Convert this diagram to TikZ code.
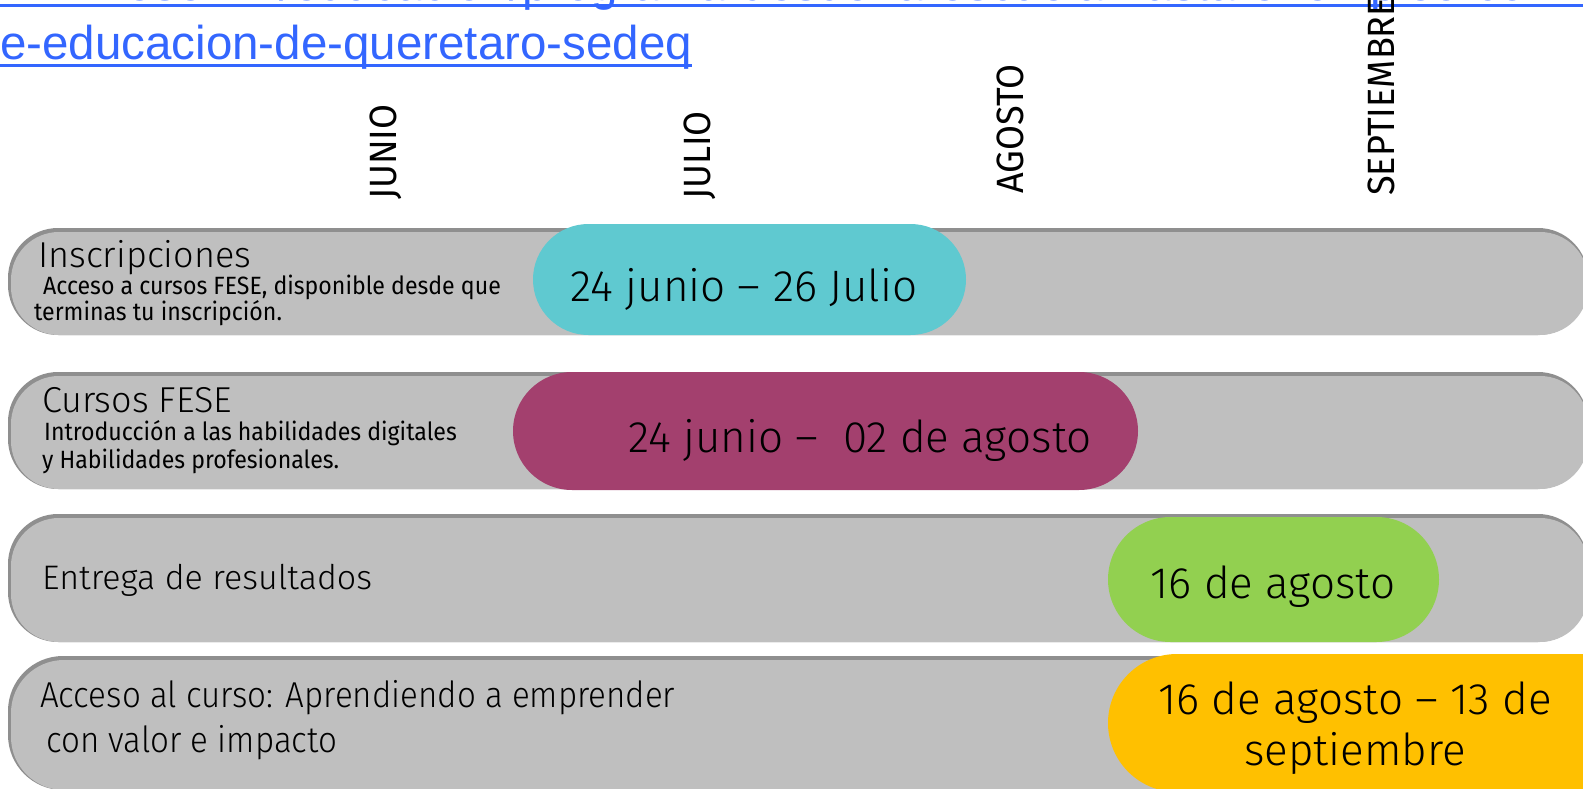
\documentclass[tikz,border=0pt]{standalone}
\usepackage{fontspec}
\setmainfont{Fira Sans Light}
\newfontfamily\titlefont{Fira Sans Light}
\newfontfamily\narrowtitle{Fira Sans Light}[FakeStretch=0.92]
\newfontfamily\subfont{Fira Sans}[FakeStretch=0.925]
\newfontfamily\monthfont{Fira Sans}[FakeStretch=0.95]
\newfontfamily\linkfont{Liberation Sans}
\usetikzlibrary{shapes.misc}
\definecolor{barfill}{HTML}{BFBFBF}
\definecolor{barshade}{HTML}{8F8F8F}
\definecolor{pcyan}{HTML}{5FC9D0}
\definecolor{pmag}{HTML}{A3406E}
\definecolor{pgreen}{HTML}{92D050}
\definecolor{pyellow}{HTML}{FFC000}
\definecolor{linkblue}{HTML}{3366FF}
\begin{document}
\begin{tikzpicture}[x=1pt,y=-1pt,
  shadebox/.style={rectangle, rounded corners=50pt, fill=barshade, inner sep=0pt, draw=none},
  barbox/.style={rectangle, rounded corners=48pt, fill=barfill, inner sep=0pt, draw=none},
  pill/.style={rounded rectangle, inner sep=0pt, draw=none},
  title/.style={anchor=base west, inner sep=0pt, font=\titlefont\fontsize{36}{36}\selectfont},
  sub/.style={anchor=base west, inner sep=0pt, font=\subfont\fontsize{25}{25}\selectfont},
  datetxt/.style={anchor=base, inner sep=0pt, font=\fontsize{44}{44}\selectfont},
  month/.style={rotate=90, anchor=base west, inner sep=0pt, font=\monthfont\fontsize{38}{38}\selectfont},
  link/.style={anchor=base west, inner sep=0pt, text=linkblue, font=\linkfont\fontsize{47.5}{47.5}\selectfont},
]
\useasboundingbox (0,0) rectangle (1583,789);
\clip (0,0) rectangle (1583,789);

% link
\node[link] (l1) at (0,1) {www.fese.mx/educacion/programa-desde-la-escuela-hasta-el-empleo-con-la-secretaria-d};
\fill[linkblue] (0,4.5) rectangle (1583,7.5);
\node[link] (l2) at (0,60) {e-educacion-de-queretaro-sedeq};
\fill[linkblue] ([yshift=-4.5pt]l2.base west) rectangle ([yshift=-7.5pt]l2.base east);

% months
\node[month] (m1) at (396,200) {JUNIO};
\node[month] (m2) at (710,200) {JULIO};
\node[month] (m3) at (1023,194) {AGOSTO};
\node[month] (m4) at (1394,196) {SEPTIEMBRE};

% bars
\node[shadebox, minimum width=1580, minimum height=107] (b1s) at (798,281.5) {};
\node[barbox, minimum width=1577, minimum height=103] (b1) at (799.5,283.5) {};
\node[shadebox, minimum width=1580, minimum height=117] (b2s) at (798,430.5) {};
\node[barbox, minimum width=1577, minimum height=113] (b2) at (799.5,432.5) {};
\node[shadebox, minimum width=1580, minimum height=128] (b3s) at (798,578) {};
\node[barbox, minimum width=1577, minimum height=124] (b3) at (799.5,580) {};
\node[shadebox, minimum width=1580, minimum height=134, rounded corners=55pt] (b4s) at (798,723) {};
\node[barbox, minimum width=1577, minimum height=130, rounded corners=53pt] (b4) at (799.5,725) {};

% pills
\node[pill, fill=pcyan, minimum width=433, minimum height=111] (p1) at (749.5,279.5) {};
\node[pill, fill=pmag, minimum width=625, minimum height=118] (p2) at (825.5,431) {};
\node[pill, fill=pgreen, minimum width=331, minimum height=125] (p3) at (1273.5,579.5) {};
\node[pill, fill=pyellow, minimum width=552, minimum height=138] (p4) at (1384,723) {};

% dates
\node[datetxt] (d1) at (744,301) {24 junio – 26 Julio};
\node[datetxt] (d2) at (860,452) {24 junio –\ \ 02 de agosto};
\node[datetxt] (d3) at (1273,598) {16 de agosto};
\node[datetxt] (d4a) at (1355,714) {16 de agosto – 13 de};
\node[datetxt] (d4b) at (1355,765) {septiembre};

% left texts
\node[title] (t1) at (38,267) {Inscripciones};
\node[sub] (t1a) at (43,294) {Acceso a cursos FESE, disponible desde que};
\node[sub] (t1b) at (34,320) {terminas tu inscripción.};
\node[title] (t2) at (42,412) {Cursos FESE};
\node[sub] (t2a) at (44,440) {Introducción a las habilidades digitales};
\node[sub] (t2b) at (42,468) {y Habilidades profesionales.};
\node[title, font=\titlefont\fontsize{34}{34}\selectfont] (t3) at (42,589) {Entrega de resultados};
\node[title, font=\narrowtitle\fontsize{36}{36}\selectfont] (t4a) at (40,707) {Acceso al curso: Aprendiendo a emprender};
\node[title, font=\narrowtitle\fontsize{36}{36}\selectfont] (t4b) at (46,752) {con valor e impacto};
\end{tikzpicture}
\end{document}
